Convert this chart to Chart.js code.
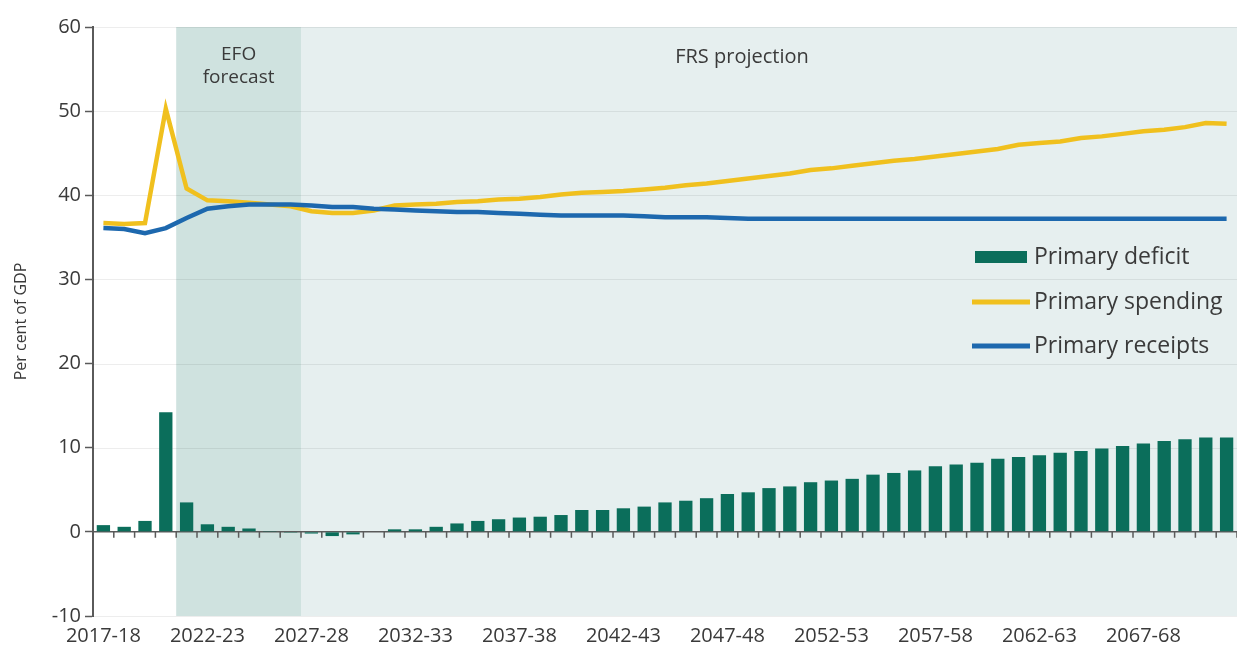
<!DOCTYPE html>
<html lang="en">
<head>
    <meta charset="UTF-8">
    <script src="https://cdn.jsdelivr.net/npm/chart.js"></script>
    <title>Primary spending and receipts</title>
    <style>
        html, body { margin: 0; padding: 0; background: #ffffff; }
        #wrap { width: 1237px; height: 651px; position: relative; }
    </style>
</head>
<body>
<div id="wrap"><canvas id="chart" width="1237" height="651"></canvas></div>
<script>
    // fiscal years on the x axis
    const years = ['2017-18','2018-19','2019-20','2020-21','2021-22','2022-23','2023-24','2024-25','2025-26','2026-27',
        '2027-28','2028-29','2029-30','2030-31','2031-32','2032-33','2033-34','2034-35','2035-36','2036-37',
        '2037-38','2038-39','2039-40','2040-41','2041-42','2042-43','2043-44','2044-45','2045-46','2046-47',
        '2047-48','2048-49','2049-50','2050-51','2051-52','2052-53','2053-54','2054-55','2055-56','2056-57',
        '2057-58','2058-59','2059-60','2060-61','2061-62','2062-63','2063-64','2064-65','2065-66','2066-67',
        '2067-68','2068-69','2069-70','2070-71','2071-72'];

    // per cent of GDP
    const primaryDeficit = [0.8, 0.6, 1.3, 14.2, 3.5, 0.9, 0.6, 0.4, 0.1, -0.1,
        -0.2, -0.5, -0.3, 0.0, 0.3, 0.3, 0.6, 1.0, 1.3, 1.5,
        1.7, 1.8, 2.0, 2.6, 2.6, 2.8, 3.0, 3.5, 3.7, 4.0,
        4.5, 4.7, 5.2, 5.4, 5.9, 6.1, 6.3, 6.8, 7.0, 7.3,
        7.8, 8.0, 8.2, 8.7, 8.9, 9.1, 9.4, 9.6, 9.9, 10.2,
        10.5, 10.8, 11.0, 11.2, 11.2];

    const primarySpending = [36.7, 36.6, 36.7, 50.3, 40.8, 39.4, 39.3, 39.1, 38.9, 38.7,
        38.1, 37.9, 37.9, 38.2, 38.8, 38.9, 39.0, 39.2, 39.3, 39.5,
        39.6, 39.8, 40.1, 40.3, 40.4, 40.5, 40.7, 40.9, 41.2, 41.4,
        41.7, 42.0, 42.3, 42.6, 43.0, 43.2, 43.5, 43.8, 44.1, 44.3,
        44.6, 44.9, 45.2, 45.5, 46.0, 46.2, 46.4, 46.8, 47.0, 47.3,
        47.6, 47.8, 48.1, 48.6, 48.5];

    const primaryReceipts = [36.1, 36.0, 35.5, 36.1, 37.3, 38.4, 38.7, 38.9, 38.9, 38.9,
        38.8, 38.6, 38.6, 38.4, 38.3, 38.2, 38.1, 38.0, 38.0, 37.9,
        37.8, 37.7, 37.6, 37.6, 37.6, 37.6, 37.5, 37.4, 37.4, 37.4,
        37.3, 37.2, 37.2, 37.2, 37.2, 37.2, 37.2, 37.2, 37.2, 37.2,
        37.2, 37.2, 37.2, 37.2, 37.2, 37.2, 37.2, 37.2, 37.2, 37.2,
        37.2, 37.2, 37.2, 37.2, 37.2];

    const efoStart = '2021-22';
    const frsStart = '2027-28';

    const FONT = '"Open Sans", "DejaVu Sans", sans-serif';
    const TEXT = '#3a3a3a';
    const GREEN = '#0b6e5b';
    const YELLOW = '#f0c01e';
    const BLUE = '#1d68ae';

    // shaded forecast / projection bands, zero line with its ticks, band labels and legend
    const decorations = {
        id: 'decorations',
        beforeDatasetsDraw(chart) {
            const ctx = chart.ctx, xs = chart.scales.x, ys = chart.scales.y, area = chart.chartArea;
            const half = (xs.getPixelForValue(1) - xs.getPixelForValue(0)) / 2;
            const efoX = xs.getPixelForValue(years.indexOf(efoStart)) - half;
            const frsX = xs.getPixelForValue(years.indexOf(frsStart)) - half;
            ctx.save();
            ctx.fillStyle = '#cfe2df';
            ctx.fillRect(efoX, area.top, frsX - efoX, area.bottom - area.top);
            ctx.fillStyle = '#e6efef';
            ctx.fillRect(frsX, area.top, area.right - frsX, area.bottom - area.top);

            // faint gridlines over the bands
            ctx.strokeStyle = 'rgba(0,0,0,0.07)';
            ctx.lineWidth = 1;
            ys.ticks.forEach(t => {
                if (t.value === 0) return;
                const y = Math.round(ys.getPixelForValue(t.value)) + 0.5;
                ctx.beginPath();
                ctx.moveTo(area.left, y);
                ctx.lineTo(area.right, y);
                ctx.stroke();
            });

            // zero line and category ticks
            const y0 = ys.getPixelForValue(0);
            ctx.strokeStyle = '#5a5a5a';
            ctx.lineWidth = 1.5;
            ctx.beginPath();
            ctx.moveTo(area.left, y0);
            ctx.lineTo(area.right, y0);
            for (let i = 0; i <= years.length; i++) {
                const x = xs.getPixelForValue(0) - half + i * 2 * half;
                ctx.moveTo(x, y0);
                ctx.lineTo(x, y0 + 6);
            }
            ctx.stroke();

            // band labels
            ctx.fillStyle = TEXT;
            ctx.textAlign = 'center';
            ctx.textBaseline = 'middle';
            ctx.font = '19px ' + FONT;
            ctx.fillText('EFO', (efoX + frsX) / 2, 55);
            ctx.fillText('forecast', (efoX + frsX) / 2, 78);
            ctx.font = '20px ' + FONT;
            ctx.fillText('FRS projection', (frsX + area.right) / 2 - 27, 57);
            ctx.restore();
        },
        afterDraw(chart) {
            const ctx = chart.ctx;
            const rows = [257, 302, 346];
            ctx.save();
            ctx.font = '23px ' + FONT;
            ctx.textBaseline = 'middle';
            ctx.textAlign = 'left';
            chart.data.datasets.forEach((d, i) => {
                const y = rows[i];
                if (d.type === 'bar') {
                    ctx.fillStyle = d.backgroundColor;
                    ctx.fillRect(975, y - 6, 52, 12);
                } else {
                    ctx.strokeStyle = d.borderColor;
                    ctx.lineWidth = 5;
                    ctx.beginPath();
                    ctx.moveTo(972, y);
                    ctx.lineTo(1030, y);
                    ctx.stroke();
                }
                ctx.fillStyle = TEXT;
                ctx.fillText(d.label, 1034, y);
            });
            ctx.restore();
        }
    };

    new Chart(document.getElementById('chart'), {
        data: {
            labels: years,
            datasets: [
                {type: 'bar', label: 'Primary deficit', data: primaryDeficit, backgroundColor: GREEN,
                    categoryPercentage: 1, barPercentage: 0.64, order: 2},
                {type: 'line', label: 'Primary spending', data: primarySpending, borderColor: YELLOW,
                    borderWidth: 4.5, pointRadius: 0, tension: 0, order: 1},
                {type: 'line', label: 'Primary receipts', data: primaryReceipts, borderColor: BLUE,
                    borderWidth: 4.5, pointRadius: 0, tension: 0, order: 0}
            ]
        },
        options: {
            responsive: false,
            animation: false,
            layout: {padding: {top: 27, right: 0, bottom: 0, left: 0}},
            plugins: {legend: {display: false}, tooltip: {enabled: false}},
            scales: {
                x: {
                    offset: true,
                    grid: {display: false, drawTicks: false},
                    border: {display: false},
                    ticks: {
                        autoSkip: false, maxRotation: 0, padding: 8, color: TEXT,
                        font: {family: FONT, size: 20},
                        callback: (v, i) => i % 5 === 0 ? years[i] : ''
                    },
                    afterFit: s => { s.height = 35; }
                },
                y: {
                    min: -10, max: 60,
                    ticks: {stepSize: 10, padding: 4, color: TEXT, font: {family: FONT, size: 20}},
                    grid: {drawOnChartArea: false, tickLength: 8, tickColor: '#5a5a5a', tickWidth: 1.5},
                    border: {color: '#5a5a5a', width: 2},
                    title: {display: true, text: 'Per cent of GDP', color: TEXT,
                        font: {family: FONT, size: 16}, padding: {top: 12, bottom: 0}},
                    afterFit: s => { s.width = 93; }
                }
            }
        },
        plugins: [decorations]
    });
</script>
</body>
</html>
